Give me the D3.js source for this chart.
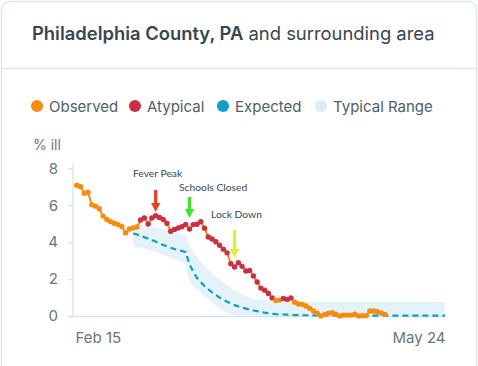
<!DOCTYPE html>
<html><head><meta charset="utf-8">
<script src="https://cdn.jsdelivr.net/npm/d3@7"></script>
<style>
html,body{margin:0;padding:0;background:#fff;}
svg{display:block;}
</style></head>
<body>
<svg id="chart" width="478" height="366"></svg>
<script>
// ---------- data ----------
const startDate = "2020-02-15";
const endDate = "2020-05-24";
const observedStartDay = 1;   // first observed point: Feb 16
const observed = [
  7.08, 7.00, 6.65, 6.70, 6.02, 5.95, 5.81, 5.41, 5.23, 5.11, 5.02, 4.95, 4.84, 4.50, 4.71, 4.77, 4.82,
  5.20, 5.31, 4.98, 5.31, 5.43, 5.34, 5.23, 5.02, 4.59, 4.69, 4.77, 4.84, 4.96, 4.71, 4.95, 4.97, 5.11, 4.75,
  4.28, 4.17, 4.02, 3.83, 3.62, 3.42, 2.83, 2.65, 2.89, 2.69, 2.44, 2.47, 2.17, 1.84, 1.51, 1.40, 1.22, 0.98,
  0.84, 0.86, 0.95, 0.90, 0.98, 0.75, 0.65, 0.63, 0.54, 0.41, 0.27, 0.15, 0.00, 0.09, 0.15, 0.18, 0.10,
  0.00, 0.05, 0.05, 0.05, 0.10, 0.00, 0.02, 0.02, 0.27, 0.27, 0.23, 0.16, 0.09
];
const atypical = [
  0,0,0,0,0,0,0,0,0,0,0,0,0,0,0,0,0,
  1,1,1,1,1,1,1,1,1,1,1,1,1,1,1,1,1,1,
  1,1,1,1,1,1,1,1,1,1,1,1,1,1,1,1,1,1,
  0,0,1,1,1,0,0,0,0,0,0,0,0,0,0,0,0,
  0,0,0,0,0,0,0,0,0,0,0,0,0
];
const expectedStartDay = 16;
const expected = [
  4.47, 4.42, 4.34, 4.27, 4.19, 4.11, 4.03, 3.94, 3.85, 3.77, 3.70, 3.63, 3.57, 3.52, 3.46,
  2.80, 2.40, 2.06, 1.84, 1.62, 1.45, 1.28, 1.14, 1.00, 0.88, 0.77, 0.68, 0.59, 0.52, 0.46,
  0.40, 0.35, 0.30, 0.26, 0.22, 0.18, 0.15, 0.12, 0.10, 0.09, 0.08, 0.07, 0.06, 0.05, 0.05,
  0.04, 0.04, 0.04, 0.03, 0.03, 0.03, 0.03, 0.03, 0.03, 0.02, 0.02, 0.02, 0.02, 0.02, 0.02,
  0.02, 0.02, 0.02, 0.02, 0.02, 0.02, 0.02, 0.02, 0.02, 0.02, 0.02, 0.02, 0.02, 0.02, 0.02,
  0.02, 0.02, 0.02, 0.02, 0.02, 0.02, 0.02, 0.02, 0.02
];
const rangeUpper = [
  5.00, 4.97, 4.94, 4.90, 4.86, 4.82, 4.78, 4.74, 4.70, 4.62, 4.58, 4.53, 4.48, 4.42, 4.36,
  3.85, 3.50, 3.20, 2.95, 2.72, 2.50, 2.30, 2.12, 1.96, 1.80, 1.66, 1.52, 1.40, 1.28, 1.16,
  1.07, 1.00, 0.95, 0.91, 0.88, 0.86, 0.84, 0.82, 0.81, 0.80, 0.79, 0.78, 0.78, 0.77, 0.77,
  0.76, 0.76, 0.76, 0.76, 0.76, 0.76, 0.76, 0.76, 0.76, 0.76, 0.76, 0.76, 0.76, 0.76, 0.76,
  0.76, 0.76, 0.76, 0.76, 0.76, 0.76, 0.76, 0.76, 0.76, 0.76, 0.76, 0.76, 0.76, 0.76, 0.76,
  0.76, 0.76, 0.76, 0.76, 0.76, 0.76, 0.76, 0.76, 0.76
];
const rangeLower = [
  3.75, 3.72, 3.68, 3.63, 3.58, 3.52, 3.46, 3.40, 3.33, 3.25, 3.17, 3.08, 3.00, 2.92, 2.85,
  1.85, 1.65, 1.45, 1.28, 1.10, 0.92, 0.74, 0.56, 0.40, 0.28, 0.18, 0.10, 0.04, 0.00, 0.00,
  0.00, 0.00, 0.00, 0.00, 0.00, 0.00, 0.00, 0.00, 0.00, 0.00, 0.00, 0.00, 0.00, 0.00, 0.00,
  0.00, 0.00, 0.00, 0.00, 0.00, 0.00, 0.00, 0.00, 0.00, 0.00, 0.00, 0.00, 0.00, 0.00, 0.00,
  0.00, 0.00, 0.00, 0.00, 0.00, 0.00, 0.00, 0.00, 0.00, 0.00, 0.00, 0.00, 0.00, 0.00, 0.00,
  0.00, 0.00, 0.00, 0.00, 0.00, 0.00, 0.00, 0.00, 0.00
];
const yTicks = [0, 2, 4, 6, 8];
const xTickLabels = ["Feb 15", "May 24"];
const legendLabels = ["Observed", "Atypical", "Expected", "Typical Range"];
const annotations = [
  {label: "Fever Peak", date: "2020-03-08"},
  {label: "Schools Closed", date: "2020-03-17"},
  {label: "Lock Down", date: "2020-03-29"}
];

// ---------- styles ----------
const C = {orange:"#f98c0c", red:"#cc2f3f", blue:"#0f9fc6", band:"#e3f3f9", bandLegend:"#d9eef6",
  text:"#37474f", axisText:"#66767f", grid:"#d6e3e9", border:"#dde6ea"};
const annColors = ["#e8401e", "#3ee52a", "#e2ee2a"];

const parse = d3.timeParse("%Y-%m-%d");
const t0 = parse(startDate), t1 = parse(endDate);
const day = i => d3.timeDay.offset(t0, i);

const svg = d3.select("#chart");

// card frame
svg.append("rect").attr("x",1.5).attr("y",1.5).attr("width",475).attr("height",420)
  .attr("rx",8).attr("fill","#fff").attr("stroke",C.border).attr("stroke-width",1.3);
svg.append("line").attr("x1",2).attr("x2",477).attr("y1",68.5).attr("y2",68.5)
  .attr("stroke",C.border).attr("stroke-width",1.3);

// title
const title = svg.append("text").attr("x",32).attr("y",40)
  .attr("font-family","Inter, 'Noto Sans', sans-serif").attr("font-size",18.4).attr("fill",C.text);
title.append("tspan").attr("font-weight",600).text("Philadelphia County, PA");
title.append("tspan").attr("font-weight",400).text(" and surrounding area");

// legend
const legendX = [37, 135, 223, 321];
const legendColors = [C.orange, C.red, C.blue, C.bandLegend];
legendLabels.forEach((l,i)=>{
  svg.append("circle").attr("cx",legendX[i]).attr("cy",106).attr("r",6).attr("fill",legendColors[i]);
  svg.append("text").attr("x",legendX[i]+12).attr("y",111.5)
    .attr("font-family","Inter, 'Noto Sans', sans-serif").attr("font-size",15).attr("fill","#4f5e69").text(l);
});

// scales
const x = d3.scaleTime().domain([t0, t1]).range([73, 445]);
const y = d3.scaleLinear().domain([0, 8]).range([316, 168.3]);

// "% ill"
svg.append("text").attr("x",33).attr("y",150).attr("font-family","Inter, 'Noto Sans', sans-serif")
  .attr("font-size",14).attr("fill",C.axisText).text("% ill");

// y axis
const yAxis = svg.append("g").attr("transform","translate(73,0)")
  .call(d3.axisLeft(y).tickValues(yTicks).tickSize(5).tickPadding(10).tickFormat(d3.format("d")));
yAxis.select(".domain").attr("stroke",C.grid).attr("stroke-width",1.3).attr("d","M0,163V316");
yAxis.selectAll(".tick line").attr("stroke",C.grid).attr("stroke-width",1.3);
yAxis.selectAll(".tick text").attr("font-family","Inter, 'Noto Sans', sans-serif").attr("font-size",15)
  .attr("fill",C.axisText);

// x axis
const xAxis = svg.append("g").attr("transform","translate(0,316)")
  .call(d3.axisBottom(x).tickValues([t0, t1]).tickSize(0).tickPadding(16)
    .tickFormat((d,i)=>xTickLabels[i]));
xAxis.select(".domain").attr("stroke",C.grid).attr("stroke-width",1.3).attr("d","M68,0.5H445");
xAxis.selectAll(".tick text").attr("font-family","Inter, 'Noto Sans', sans-serif").attr("font-size",15)
  .attr("fill",C.axisText).attr("text-anchor",(d,i)=> i===0 ? "start" : "end")
  .attr("dx",(d,i)=> i===0 ? 2 : 0);

// band
const bandData = rangeUpper.map((u,i)=>({date:day(expectedStartDay+i), hi:u, lo:rangeLower[i]}));
svg.append("path").datum(bandData)
  .attr("d", d3.area().x(d=>x(d.date)).y0(d=>y(d.lo)).y1(d=>y(d.hi)))
  .attr("fill",C.band);

// expected
const expData = expected.map((v,i)=>({date:day(expectedStartDay+i), v}));
svg.append("path").datum(expData)
  .attr("d", d3.line().x(d=>x(d.date)).y(d=>y(d.v)))
  .attr("fill","none").attr("stroke",C.blue).attr("stroke-width",2.2).attr("stroke-dasharray","6,4");

// observed
const obsData = observed.map((v,i)=>({date:day(observedStartDay+i), v, a:atypical[i]}));
svg.append("path").datum(obsData)
  .attr("d", d3.line().x(d=>x(d.date)).y(d=>y(d.v)))
  .attr("fill","none").attr("stroke",C.orange).attr("stroke-width",2);
svg.selectAll("circle.pt").data(obsData).enter().append("circle").attr("class","pt")
  .attr("cx",d=>x(d.date)).attr("cy",d=>y(d.v)).attr("r",2.7)
  .attr("fill",d=>d.a ? C.red : C.orange);

// annotations
const annText = [{x:133, y:177}, {x:179, y:191}, {x:211, y:218}];
const annArrow = [{y1:190, y2:212}, {y1:197, y2:218}, {y1:230, y2:258}];
annotations.forEach((a,i)=>{
  const ax = x(parse(a.date));
  svg.append("text").attr("x",annText[i].x).attr("y",annText[i].y)
    .attr("font-family","Lato, 'Open Sans', sans-serif").attr("font-size",10.3).attr("fill","#3b4656").text(a.label);
  const y1 = annArrow[i].y1, y2 = annArrow[i].y2, hw = 4.6, hl = 9, sw = 1.6;
  const p = `M${ax-sw},${y1} L${ax+sw},${y1} L${ax+sw},${y2-hl} L${ax+hw},${y2-hl} L${ax},${y2} L${ax-hw},${y2-hl} L${ax-sw},${y2-hl} Z`;
  svg.append("path").attr("d",p).attr("fill",annColors[i]);
});
</script>
</body></html>
